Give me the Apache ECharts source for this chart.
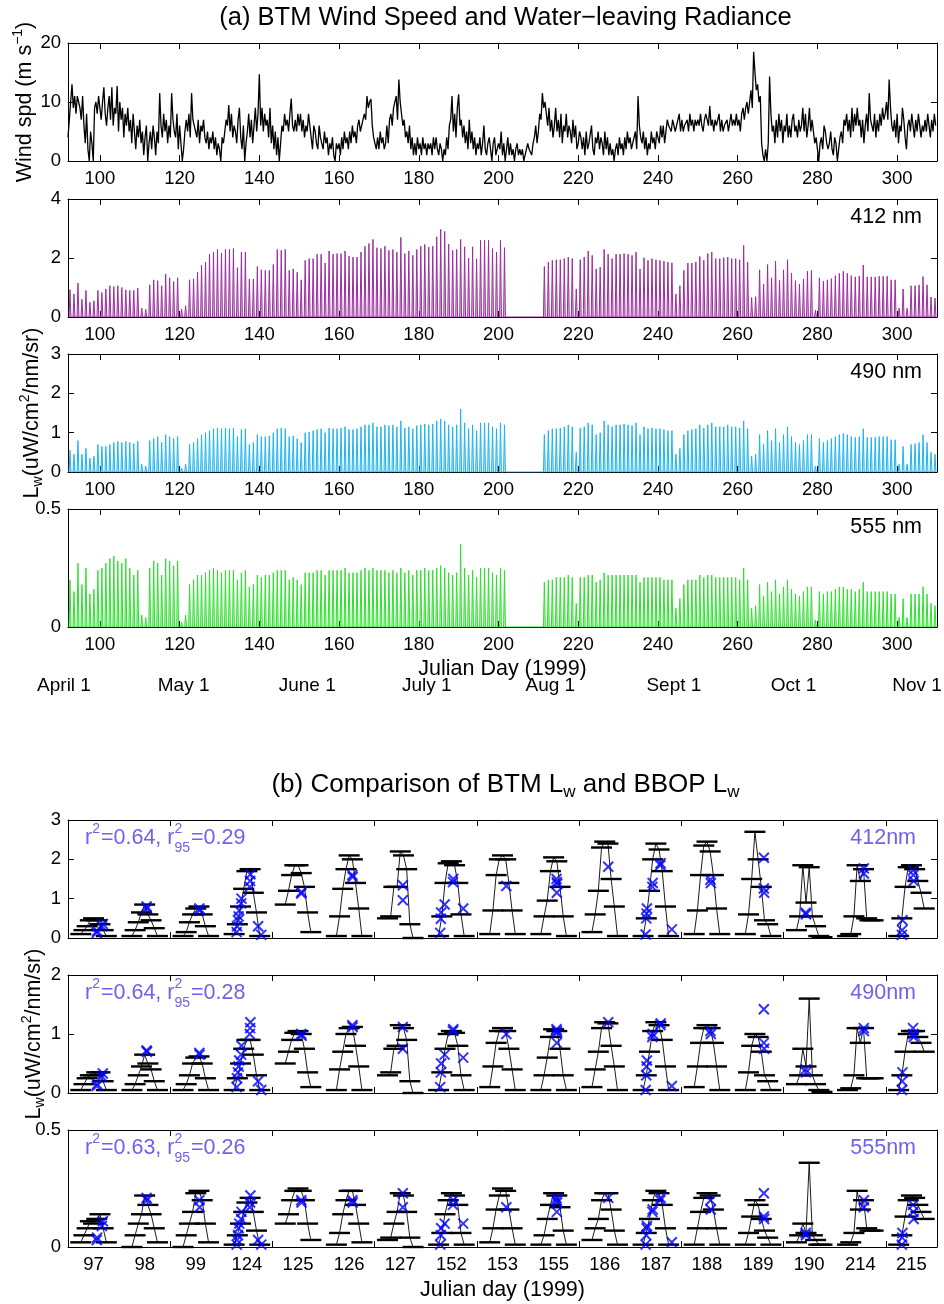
<!DOCTYPE html>
<html>
<head>
<meta charset="utf-8">
<script src="https://cdn.jsdelivr.net/npm/echarts@6/dist/echarts.min.js"></script>
<style>
  html, body { margin: 0; padding: 0; background: #fff; }
  #main { width: 944px; height: 1304px; }
</style>
</head>
<body>
<div id="main"></div>
<script>
// ---------------- (a) BTM time series, Julian days 92-309, 1999 ----------------
const WIND_START = 92;      // first day of the wind record
const WIND_PER_DAY = 3;     // samples per day (every 8 h)
const windSpeed = [
  4,7,10, 13,9,11, 8,11,10, 9,7,11, 6,3,8, 2,0,5, 3,0,9, 10,8,11, 9,7,10, 12.5,8,6,
  9,11,7, 12.5,6,9, 8,12.7,5, 10,7,9, 4,8,6, 9,5,7, 3,8,5, 2,6,4, 7,3,5, 1,4,6,
  0,3,5, 2,6,4, 1,5,3, 11.5,6,4, 8,5,7, 3,6,4, 11.5,7,5, 4,8,2, 6,3,0, 2,5,7,
  5,8,4, 11.5,7,6, 5,4,7, 3,6,5, 7,4,3, 5,2,4, 3,5,2, 4,1,3, 2,0,4, 3,5,7,
  6,9.5,5, 8,4,6, 5,3,7, 9,4,2, 6,0,3, 5,8,4, 7,3,6, 9,5,8, 14.7,6,9, 5,8,6,
  7,4,9, 3,6,2, 5,1,4, 0,3,6, 5,8,6, 7,5,8, 10.6,6,5, 7,5,8, 6,8,5, 7,4,6,
  5,8,6, 4,2,6, 5,3,2, 6,4,3, 2,5,3, 4,1,3, 2,4,1, 0,3,2, 3,1,4, 2,5,3,
  4,2,5, 3,6,4, 5,3,6, 7,5,6, 6,8,7, 11,9,10, 10.5,6,4, 3,2,4, 2,5,3, 4,2,3,
  6,3,7, 8,6,9, 9,11,7, 13.8,10,8, 6,7,4, 5,3,6, 2,4,1, 3,1,4, 2,3,1, 4,2,3,
  1,3,2, 3,1,4, 2,4,2, 1,3,2, 0,2,1, 4,2,6, 7,11,5, 8,4,9, 11.3,6,7, 4,6,3,
  5,2,7, 3,5,2, 4,1,3, 2,4,1, 3,6,2, 1,3,4, 2,0,3, 4,1,2, 3,2,5, 1,3,0,
  2,4,1, 3,1,2, 0,2,3, 1,2,1, 2,0,1, 1,3,2, 2,1,3, 4,6,3, 5,8,7, 11.5,9,10,
  8,6,9, 5,7,4, 6,9,5, 7,4,8, 3,6,5, 8,4,6, 5,3,7, 4,6,2, 3,5,4, 2,4,1,
  5,2,3, 3,6,2, 1,4,3, 5,2,4, 3,1,5, 2,4,1, 3,1,2, 0,2,3, 1,4,2, 3,1,4,
  2,5,3, 4,2,3, 3,5,2, 11,6,4, 3,5,2, 4,1,3, 2,5,3, 4,2,5, 5,3,6, 4,6,3,
  5,7,6, 6,5,7, 7,5,6, 6,8,5, 7,5,6, 6,7,5, 8,6,7, 5,7,6, 7,6,8, 6,5,7,
  8,7,6, 9.3,6,7, 5,7,6, 6,8,5, 7,5,6, 6,7,5, 5,8,6, 7,6,8, 6,7,5, 8,9,7,
  9,10,8, 10,12,9, 18.5,15,12, 13,10,11, 3,1,0, 2,0,3, 14.3,8,5, 6,3,7, 4,8,5, 7,3,6,
  5,8,4, 6,4,7, 8,5,6, 4,7,5, 6,9,5, 8,4,6, 9,5,7, 5,3,4, 2,0,3, 4,2,6,
  5,3,2, 3,5,2, 1,4,3, 0,2,4, 5,3,7, 6,8,5, 7,4,9, 5,8,6, 9,6,7, 4,7,3,
  6,8,5, 11.5,7,6, 5,8,4, 7,5,8, 6,9,7, 8,10,7, 13.8,9,6, 5,7,4, 8,3,6, 5,9,7,
  4,2,6, 7,5,8, 6,4,7, 5,8,6, 4,6,5, 7,5,8, 6,4,7, 5,8,6
];

// Daily noon peaks of water-leaving radiance (uW/cm^2/nm/sr), days 92-309; null = no data
const RAD_START = 92;
const lw412 = [
  0.93,0.78,1.15,0.60,0.90,0.50,0.55,0.90,0.83,0.95,
  1.06,1.03,1.06,1.00,0.92,0.90,0.90,0.98,0.30,0.26,
  1.09,1.26,1.23,1.06,1.46,1.33,1.20,1.33,0.26,0.38,
  1.26,1.29,1.52,1.75,1.86,2.13,2.20,2.29,2.17,2.29,
  2.29,2.32,1.67,2.20,2.20,1.29,1.29,1.71,1.60,1.58,
  1.58,1.78,2.29,2.26,2.29,1.58,1.63,1.52,1.26,1.92,
  1.98,1.98,2.13,2.13,1.83,2.24,2.13,2.15,2.15,2.24,
  2.06,2.03,2.03,2.20,2.40,2.49,2.63,2.35,2.32,2.40,
  2.26,2.29,2.20,2.70,2.15,2.24,2.09,2.29,2.40,2.46,
  2.37,2.40,2.72,2.97,2.90,2.47,2.26,2.29,2.63,2.38,
  2.00,2.38,1.97,2.60,2.60,2.60,2.32,2.20,2.60,2.35,
  null,null,null,null,null,null,null,null,null,
  1.71,1.86,1.92,1.94,1.94,1.98,2.03,1.98,0.95,1.94,
  2.03,2.24,2.09,1.63,1.69,2.29,2.13,1.98,2.13,2.13,
  2.15,2.13,2.09,2.20,1.63,2.01,1.92,1.98,1.94,1.92,
  1.89,1.86,1.84,0.78,1.06,1.58,1.83,1.83,1.86,2.05,
  1.92,2.15,2.20,1.98,1.98,2.01,2.03,1.98,1.98,1.94,
  2.43,1.86,0.66,0.69,1.60,1.12,1.78,1.33,1.89,1.24,
  1.60,1.94,1.49,1.23,1.12,1.29,1.55,1.58,0.23,1.33,
  1.21,1.26,1.30,1.40,1.48,1.55,1.48,1.40,1.36,1.39,
  1.76,1.36,1.36,1.36,1.38,1.38,1.38,1.26,1.26,0.30,
  0.95,0.30,1.06,1.06,1.09,1.37,1.09,0.68,0.64
];
const lw490 = [
  0.55,0.45,0.80,0.45,0.60,0.35,0.40,0.70,0.65,0.65,
  0.70,0.75,0.78,0.75,0.78,0.75,0.72,0.78,0.20,0.15,
  0.80,0.85,0.90,0.75,0.95,0.90,0.85,0.90,0.10,0.20,
  0.70,0.75,0.85,0.95,1.00,1.05,1.10,1.12,1.10,1.12,
  1.10,1.12,0.90,1.08,1.10,0.70,0.75,0.95,0.90,0.90,
  0.92,1.00,1.10,1.12,1.10,0.90,0.92,0.85,0.75,1.00,
  1.02,1.05,1.08,1.10,1.00,1.12,1.10,1.10,1.12,1.15,
  1.08,1.08,1.10,1.15,1.20,1.20,1.25,1.15,1.15,1.20,
  1.18,1.20,1.15,1.30,1.12,1.15,1.10,1.18,1.20,1.22,
  1.20,1.22,1.30,1.35,1.30,1.20,1.15,1.20,1.60,1.25,
  1.10,1.20,1.05,1.25,1.25,1.25,1.15,1.10,1.25,1.20,
  null,null,null,null,null,null,null,null,null,
  0.95,1.05,1.10,1.10,1.12,1.15,1.20,1.15,0.50,1.12,
  1.15,1.25,1.20,0.95,1.00,1.30,1.20,1.15,1.20,1.20,
  1.22,1.20,1.18,1.25,0.95,1.15,1.10,1.12,1.10,1.10,
  1.08,1.05,1.05,0.45,0.60,0.95,1.05,1.08,1.10,1.20,
  1.12,1.20,1.25,1.15,1.15,1.15,1.20,1.15,1.15,1.12,
  1.30,1.10,0.40,0.45,0.95,0.70,1.05,0.80,1.10,0.75,
  0.95,1.15,0.90,0.75,0.70,0.80,0.95,0.95,0.15,0.85,
  0.75,0.80,0.85,0.90,0.95,0.98,0.95,0.90,0.88,0.90,
  1.10,0.88,0.88,0.88,0.90,0.90,0.90,0.82,0.82,0.20,
  0.65,0.20,0.70,0.72,0.75,0.95,0.75,0.50,0.45
];
const lw555 = [
  0.20,0.15,0.27,0.18,0.25,0.14,0.16,0.24,0.25,0.27,
  0.29,0.30,0.28,0.27,0.29,0.25,0.22,0.24,0.05,0.04,
  0.25,0.28,0.27,0.22,0.29,0.28,0.26,0.28,0.02,0.05,
  0.18,0.20,0.22,0.22,0.23,0.24,0.25,0.24,0.23,0.24,
  0.24,0.24,0.20,0.23,0.24,0.17,0.18,0.22,0.21,0.22,
  0.22,0.23,0.24,0.24,0.24,0.20,0.21,0.20,0.18,0.23,
  0.23,0.23,0.24,0.24,0.22,0.24,0.24,0.24,0.24,0.25,
  0.23,0.23,0.23,0.24,0.25,0.24,0.25,0.24,0.24,0.24,
  0.23,0.24,0.23,0.25,0.23,0.24,0.22,0.24,0.24,0.25,
  0.24,0.24,0.25,0.26,0.25,0.23,0.22,0.23,0.35,0.25,
  0.22,0.24,0.21,0.25,0.25,0.25,0.23,0.22,0.25,0.24,
  null,null,null,null,null,null,null,null,null,
  0.19,0.20,0.20,0.21,0.21,0.21,0.22,0.21,0.10,0.21,
  0.21,0.22,0.22,0.19,0.20,0.23,0.22,0.22,0.22,0.22,
  0.22,0.22,0.22,0.22,0.19,0.21,0.21,0.21,0.21,0.21,
  0.20,0.20,0.20,0.08,0.12,0.18,0.20,0.20,0.20,0.22,
  0.21,0.22,0.22,0.21,0.21,0.21,0.21,0.21,0.21,0.20,
  0.25,0.20,0.08,0.09,0.18,0.13,0.19,0.15,0.20,0.14,
  0.17,0.20,0.16,0.14,0.13,0.15,0.17,0.17,0.03,0.15,
  0.14,0.15,0.15,0.16,0.17,0.17,0.16,0.16,0.15,0.16,
  0.19,0.15,0.15,0.15,0.15,0.15,0.15,0.14,0.14,0.04,
  0.12,0.04,0.14,0.14,0.14,0.17,0.14,0.10,0.09
];

const dayTicks = [100, 120, 140, 160, 180, 200, 220, 240, 260, 280, 300];
const monthNames = ['April 1', 'May 1', 'June 1', 'July 1', 'Aug 1', 'Sept 1', 'Oct 1', 'Nov 1'];
const monthDays  = [91, 121, 152, 182, 213, 244, 274, 305];

// ---------------- (b) BTM vs BBOP on comparison days ----------------
const compDays = ['97','98','99','124','125','126','127','152','153','155','186','187','188','189','190','214','215'];
const btmHours = [8, 9, 10, 11, 12, 13, 14, 15, 16];
const btm412 = [
  [0.10,0.20,0.30,0.45,0.50,0.45,0.35,0.20,0.05],
  [0.05,0.20,0.40,0.65,0.85,0.60,0.45,0.25,0.05],
  [0.05,0.15,0.40,0.60,0.75,0.80,0.60,0.30,0.05],
  [0.10,0.35,0.80,1.25,1.70,1.75,1.15,0.65,0.05],
  [0.85,1.20,1.60,1.85,1.85,1.65,1.30,0.65,0.15],
  [0.05,0.55,1.25,1.75,2.10,2.00,1.40,0.75,0.05],
  [0.50,0.55,1.30,1.30,2.20,2.10,1.75,0.35,0.00],
  [0.05,0.55,1.40,1.90,1.95,1.85,1.40,0.60,0.05],
  [0.10,0.70,1.60,2.00,2.10,2.00,1.40,0.70,0.10],
  [0.10,0.55,0.95,1.70,2.05,1.95,1.30,0.55,0.05],
  [0.15,0.60,1.20,2.30,2.45,2.40,1.50,0.80,0.05],
  [0.05,0.50,1.20,2.00,2.40,2.25,1.70,0.80,0.05],
  [0.10,0.70,1.60,2.35,2.45,2.20,1.60,0.75,0.10],
  [0.10,0.60,1.50,2.70,2.00,1.30,0.45,0.35,0.05],
  [0.20,0.55,1.85,0.90,1.80,0.55,0.30,0.05,0.02],
  [0.05,0.10,0.55,1.85,1.45,1.75,0.50,0.45,0.45],
  [0.05,0.50,1.30,1.80,1.85,1.75,1.45,1.15,0.75]
];
const btm490 = [
  [0.05,0.15,0.25,0.30,0.30,0.35,0.35,0.20,0.05],
  [0.05,0.15,0.30,0.45,0.65,0.50,0.40,0.20,0.05],
  [0.05,0.15,0.30,0.50,0.60,0.62,0.50,0.25,0.05],
  [0.05,0.25,0.50,0.75,0.90,0.90,0.65,0.30,0.05],
  [0.50,0.70,0.90,1.02,1.05,1.00,0.75,0.35,0.10],
  [0.05,0.40,0.70,1.00,1.10,1.12,0.80,0.45,0.05],
  [0.30,0.35,0.75,0.80,1.15,1.10,0.90,0.20,0.00],
  [0.05,0.35,0.75,1.00,1.05,1.02,0.80,0.30,0.05],
  [0.10,0.45,0.85,1.05,1.10,1.05,0.75,0.40,0.05],
  [0.05,0.30,0.60,0.95,1.08,1.05,0.75,0.30,0.05],
  [0.10,0.40,0.70,1.10,1.20,1.18,0.80,0.45,0.05],
  [0.05,0.30,0.70,1.05,1.20,1.15,0.90,0.45,0.05],
  [0.10,0.45,0.85,1.10,1.15,1.10,0.85,0.45,0.05],
  [0.05,0.35,0.80,1.00,0.95,0.70,0.30,0.20,0.05],
  [0.15,0.30,0.75,0.45,1.60,0.30,0.15,0.05,0.02],
  [0.05,0.08,0.30,1.10,0.85,1.10,0.25,0.25,0.25],
  [0.05,0.30,0.70,1.00,1.05,1.05,0.95,0.85,0.70]
];
const btm555 = [
  [0.02,0.05,0.08,0.11,0.10,0.12,0.14,0.08,0.02],
  [0.00,0.05,0.10,0.14,0.22,0.18,0.14,0.08,0.02],
  [0.00,0.05,0.10,0.15,0.23,0.24,0.20,0.10,0.02],
  [0.01,0.05,0.10,0.15,0.19,0.21,0.15,0.07,0.01],
  [0.10,0.14,0.20,0.24,0.25,0.24,0.20,0.10,0.03],
  [0.01,0.06,0.14,0.20,0.24,0.24,0.18,0.10,0.02],
  [0.03,0.04,0.10,0.15,0.23,0.22,0.15,0.04,0.00],
  [0.01,0.06,0.14,0.20,0.23,0.22,0.18,0.06,0.01],
  [0.02,0.08,0.16,0.22,0.25,0.24,0.16,0.08,0.01],
  [0.01,0.05,0.12,0.18,0.23,0.22,0.17,0.07,0.01],
  [0.03,0.08,0.12,0.20,0.23,0.23,0.16,0.07,0.01],
  [0.01,0.06,0.12,0.20,0.24,0.23,0.18,0.08,0.01],
  [0.01,0.08,0.15,0.21,0.23,0.22,0.16,0.08,0.01],
  [0.01,0.06,0.13,0.20,0.18,0.12,0.07,0.04,0.01],
  [0.02,0.05,0.10,0.06,0.36,0.05,0.03,0.01,0.01],
  [0.01,0.02,0.06,0.24,0.16,0.20,0.08,0.07,0.07],
  [0.01,0.05,0.13,0.20,0.22,0.21,0.18,0.15,0.12]
];
// BBOP profile casts: local hour of each cast and its Lw
const bbopHours = [
  [13,13.1,14.6,14.9],
  [12.6,12.7],
  [13.1,13.2],
  [8.8,8.9,9.2,9.4,9.6,10.2,10.3,12.9,13,13.1,15.5,16.5],
  [13,13.1],
  [13,13.1],
  [12.8,12.8],
  [8.5,8.7,8.8,9.9,12.5,12.6,15.7],
  [13.2],
  [12.9,13,13.1,13],
  [13.1],
  [8.8,9,9.1,9.2,10.9,11,13.4,13.5,17],
  [13.1,13.2],
  [13.8,13.8,13.9],
  [10.9,11],
  [13.1,13.1],
  [9,9.1,9.2,12.5,12.6,12.7]
];
const bbop412 = [
  [0.13,0.18,0.30,0.36],[0.80,0.75],[0.75,0.70],
  [0.15,0.30,0.45,0.55,0.70,0.88,1.00,1.30,1.45,1.62,0.30,0.08],
  [1.13,1.17],[1.60,1.55],[1.34,0.96],
  [0.13,0.49,0.65,0.85,1.42,1.50,0.75],
  [1.32],[1.50,1.42,1.38,1.15],[1.81],
  [0.09,0.50,0.62,0.75,1.30,1.40,1.85,1.90,0.22],
  [1.48,1.40],[2.04,1.26,1.15],[0.64,0.60],[1.77,1.64],
  [0.08,0.20,0.45,1.72,1.60,1.45]
];
const bbop490 = [
  [0.12,0.15,0.28,0.33],[0.72,0.70],[0.68,0.65],
  [0.10,0.25,0.35,0.45,0.55,0.65,0.80,1.00,1.10,1.20,0.20,0.05],
  [1.00,0.97],[1.15,1.12],[1.12,0.75],
  [0.10,0.35,0.50,0.65,1.05,1.08,0.60],
  [1.00],[1.08,1.05,1.02,0.85],[1.20],
  [0.05,0.30,0.45,0.55,0.95,1.00,1.15,1.18,0.12],
  [1.05,1.00],[1.42,0.85,0.75],[0.40,0.35],[1.10,1.05],
  [0.05,0.20,0.35,1.10,1.00,0.95]
];
const bbop555 = [
  [0.03,0.04,0.09,0.11],[0.21,0.20],[0.20,0.17],
  [0.01,0.03,0.05,0.08,0.10,0.12,0.15,0.17,0.19,0.22,0.03,0.01],
  [0.20,0.19],[0.20,0.19],[0.23,0.17],
  [0.01,0.05,0.08,0.10,0.18,0.20,0.10],
  [0.17],[0.21,0.20,0.19,0.15],[0.21],
  [0.01,0.05,0.08,0.09,0.15,0.16,0.20,0.21,0.02],
  [0.20,0.16],[0.23,0.13,0.12],[0.06,0.05],[0.20,0.17],
  [0.01,0.04,0.06,0.18,0.15,0.12]
];
const fitStats = [
  { band: '412nm', r2: '0.64', r2_95: '0.29' },
  { band: '490nm', r2: '0.64', r2_95: '0.28' },
  { band: '555nm', r2: '0.63', r2_95: '0.26' }
];

// ---------------- layout & style ----------------
const FONT = '"Liberation Sans", Arial, Helvetica, sans-serif';
const LEFT = 68, WIDTH = 869;
const PANELS = [
  { top: 43,  height: 118 }, { top: 199, height: 118 }, { top: 354, height: 118 }, { top: 509, height: 118 },
  { top: 820, height: 118 }, { top: 975, height: 118 }, { top: 1130, height: 117 }
];
const COL412 = '#9a2f9e', COL490 = '#1fb4ee', COL555 = '#2ee02e';
const TXT_B = '#6e62ee';
const BBOP_BLUE = '#0000ff';
const TICK_FS = 18.5, NAME_FS = 21.5;

const chart = echarts.init(document.getElementById('main'), null, { renderer: 'canvas' });

const grids = PANELS.map(p => ({ left: LEFT, width: WIDTH, top: p.top, height: p.height, containLabel: false }));
const xAxes = [], yAxes = [], series = [];

const tickBase = { show: true, inside: true, length: 6, lineStyle: { color: '#000', width: 1 } };
const axisLineBase = { show: true, onZero: false, lineStyle: { color: '#000', width: 1 } };
const labelBase = { color: '#000', fontSize: TICK_FS, fontFamily: FONT };
const subSup = {
  sup: { fontSize: 14, fontFamily: FONT, color: '#000', padding: [0, 0, 13, 0], lineHeight: 14 },
  sub: { fontSize: 14, fontFamily: FONT, color: '#000', padding: [13, 0, 0, 0], lineHeight: 14 }
};

function addAxes(gi, x, y) {
  const xb = { gridIndex: gi, type: 'value', min: x.min, max: x.max, splitLine: { show: false }, axisLine: axisLineBase };
  const bottomLabel = Object.assign({}, labelBase, { show: !!x.showLabels, margin: 8, customValues: x.labels || x.ticks });
  if (x.formatter) bottomLabel.formatter = x.formatter;
  xAxes.push(Object.assign({}, xb, {
    position: 'bottom',
    axisTick: Object.assign({}, tickBase, { customValues: x.ticks }),
    axisLabel: bottomLabel,
    name: x.name || '', nameLocation: 'middle', nameGap: x.nameGap || 30,
    nameTextStyle: { color: '#000', fontSize: NAME_FS, fontFamily: FONT }
  }));
  xAxes.push(Object.assign({}, xb, {
    position: 'top',
    axisTick: Object.assign({}, tickBase, { customValues: x.ticks }),
    axisLabel: { show: false }
  }));
  const yb = { gridIndex: gi, type: 'value', min: y.min, max: y.max, interval: y.interval, splitLine: { show: false }, axisLine: axisLineBase, axisTick: tickBase };
  yAxes.push(Object.assign({}, yb, {
    position: 'left',
    axisLabel: Object.assign({}, labelBase, { margin: 7 }),
    name: y.name || '', nameLocation: 'middle', nameRotate: 90, nameGap: y.nameGap || 30,
    nameMoveOverlap: false,
    nameTextStyle: { color: '#000', fontSize: NAME_FS, fontFamily: FONT, lineHeight: 24, rich: subSup }
  }));
  yAxes.push(Object.assign({}, yb, { position: 'right', axisLabel: { show: false } }));
}

// (a) panels
const xA = { min: 92, max: 310, ticks: dayTicks, showLabels: true };
addAxes(0, xA, { min: 0, max: 20, interval: 10, name: 'Wind spd (m s{sup|\u22121})', nameGap: 31 });
addAxes(1, xA, { min: 0, max: 4, interval: 2 });
addAxes(2, xA, { min: 0, max: 3, interval: 1, name: 'L{sub|w}(uW/cm{sup|2}/nm/sr)', nameGap: 24 });
addAxes(3, Object.assign({}, xA, { name: 'Julian Day (1999)', nameGap: 31 }), { min: 0, max: 0.5, interval: 0.5 });

// (b) panels: each comparison day occupies one unit along x
const xB = { min: 0, max: compDays.length, ticks: [0, 2, 4, 6, 8, 10, 12, 14, 16] };
const dayCentres = compDays.map((d, i) => i + 0.5);
addAxes(4, xB, { min: 0, max: 3, interval: 1 });
addAxes(5, xB, { min: 0, max: 2, interval: 1, name: 'L{sub|w}(uW/cm{sup|2}/nm/sr)', nameGap: 22 });
addAxes(6, Object.assign({}, xB, {
  showLabels: true, labels: dayCentres, formatter: v => compDays[Math.floor(v)],
  name: 'Julian day (1999)', nameGap: 32
}), { min: 0, max: 0.5, interval: 0.5 });

// ---------------- series ----------------
series.push({
  type: 'line', xAxisIndex: 0, yAxisIndex: 0, showSymbol: false, silent: true,
  data: windSpeed.map((v, k) => [WIND_START + k / WIND_PER_DAY, v]),
  lineStyle: { color: '#000', width: 1.3 }
});

// each day: dark at night, rising to the noon peak and back to zero at dusk
function diurnal(peaks) {
  const pts = [];
  peaks.forEach((p, k) => {
    if (p === null) return;
    const d = RAD_START + k;
    pts.push([d + 0.27, 0], [d + 0.5, p], [d + 0.73, 0]);
  });
  return pts;
}
[[lw412, COL412], [lw490, COL490], [lw555, COL555]].forEach(([arr, col], i) => {
  const gi = i + 1;
  series.push({
    type: 'line', xAxisIndex: 2 * gi, yAxisIndex: 2 * gi, showSymbol: false, silent: true,
    data: diurnal(arr),
    lineStyle: { color: col, width: 1 },
    areaStyle: { color: col, opacity: 0.3 }
  });
});

const hourToX = (i, h) => i + (h - 4) / 16;
function btmPoints(vals) {
  const pts = [];
  vals.forEach((day, i) => {
    day.forEach((v, j) => pts.push([hourToX(i, btmHours[j]), v]));
    pts.push([i + 1, '-']);
  });
  return pts;
}
function bbopPoints(vals) {
  const pts = [];
  vals.forEach((day, i) => day.forEach((v, j) => pts.push([hourToX(i, bbopHours[i][j]), v])));
  return pts;
}
[[btm412, bbop412], [btm490, bbop490], [btm555, bbop555]].forEach(([btm, bbop], k) => {
  const gi = 4 + k;
  series.push({
    type: 'line', xAxisIndex: 2 * gi, yAxisIndex: 2 * gi, silent: true,
    data: btmPoints(btm), connectNulls: false,
    showSymbol: true, symbol: 'rect', symbolSize: [21, 2.4],
    itemStyle: { color: '#000' },
    lineStyle: { color: '#000', width: 0.9 }
  });
  series.push({
    type: 'scatter', xAxisIndex: 2 * gi, yAxisIndex: 2 * gi, silent: true, z: 5,
    data: bbopPoints(bbop),
    symbol: 'path://M0,0L10,10M10,0L0,10', symbolSize: 10,
    itemStyle: { color: 'none', borderColor: BBOP_BLUE, borderWidth: 2 }
  });
});

chart.setOption({
  animation: false,
  backgroundColor: '#fff',
  grid: grids,
  xAxis: xAxes,
  yAxis: yAxes,
  series: series
});

// ---------------- annotations ----------------
const measure = document.createElement('canvas').getContext('2d');
function textWidth(str, size) { measure.font = size + 'px ' + FONT; return measure.measureText(str).width; }

// r^2 labels with stacked super/subscripts
function statLabel(x, y, parts, size, color) {
  const small = 14;
  const children = [];
  let cx = 0;
  parts.forEach(p => {
    if (typeof p === 'string') {
      children.push({ type: 'text', x: cx, y: 0, style: { text: p, fontSize: size, fontFamily: FONT, fill: color, verticalAlign: 'middle' } });
      cx += textWidth(p, size);
    } else {
      let w = 0;
      if (p.sup) {
        children.push({ type: 'text', x: cx, y: -9, style: { text: p.sup, fontSize: small, fontFamily: FONT, fill: color, verticalAlign: 'middle' } });
        w = Math.max(w, textWidth(p.sup, small));
      }
      if (p.sub) {
        children.push({ type: 'text', x: cx, y: 10, style: { text: p.sub, fontSize: small, fontFamily: FONT, fill: color, verticalAlign: 'middle' } });
        w = Math.max(w, textWidth(p.sub, small));
      }
      cx += w + 1;
    }
  });
  return { type: 'group', x: x, y: y, silent: true, children: children };
}

const graphics = [];
const centreX = LEFT + WIDTH / 2;
graphics.push({ type: 'text', x: centreX + 3, y: 18, silent: true,
  style: { text: '(a) BTM Wind Speed and Water\u2212leaving Radiance', fontSize: 25.5, fontFamily: FONT, fill: '#000', align: 'center', verticalAlign: 'middle' } });
graphics.push({ type: 'text', x: centreX + 3, y: 785, silent: true,
  style: { text: '(b) Comparison of BTM L{sub|w} and BBOP L{sub|w}', fontSize: 26, fontFamily: FONT, fill: '#000', align: 'center', verticalAlign: 'middle', lineHeight: 28,
    rich: { sub: { fontSize: 17, fontFamily: FONT, fill: '#000', padding: [15, 0, 0, 0], lineHeight: 17 } } } });

['412 nm', '490 nm', '555 nm'].forEach((t, i) => {
  graphics.push({ type: 'text', x: LEFT + WIDTH - 15, y: PANELS[i + 1].top + 18, silent: true,
    style: { text: t, fontSize: 21.5, fontFamily: FONT, fill: '#000', align: 'right', verticalAlign: 'middle' } });
});
fitStats.forEach((s, i) => {
  const p = PANELS[4 + i];
  graphics.push({ type: 'text', x: LEFT + WIDTH - 21, y: p.top + 18, silent: true,
    style: { text: s.band, fontSize: 21.5, fontFamily: FONT, fill: TXT_B, align: 'right', verticalAlign: 'middle' } });
  graphics.push(statLabel(LEFT + 17, p.top + 18, ['r', { sup: '2' }, '=' + s.r2 + ', r', { sup: '2', sub: '95' }, '=' + s.r2_95], 21.5, TXT_B));
});

// calendar dates under the day axis
monthDays.forEach((d, i) => {
  const px = chart.convertToPixel({ xAxisIndex: 6 }, d);
  graphics.push({ type: 'text', x: px, y: 686, silent: true,
    style: { text: monthNames[i], fontSize: 19, fontFamily: FONT, fill: '#000', align: 'center', verticalAlign: 'middle' } });
});

chart.setOption({ graphic: graphics });
</script>
</body>
</html>
